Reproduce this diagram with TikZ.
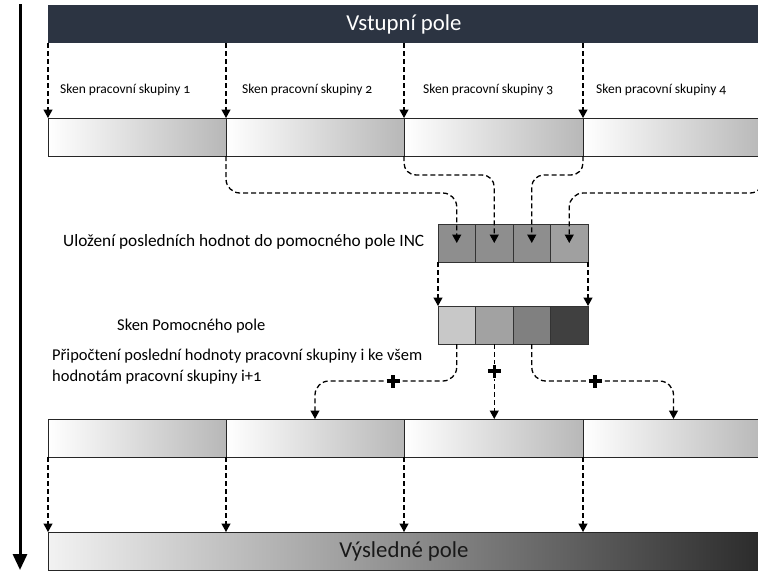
\documentclass[tikz,border=0pt]{standalone}
\usepackage{fontspec}
\setmainfont{Carlito}[Numbers=OldStyle]
\usetikzlibrary{arrows.meta}

\definecolor{barnavy}{HTML}{2C3442}
\definecolor{incgray}{HTML}{8E8E8E}
\definecolor{inclast}{HTML}{A0A0A0}
\definecolor{pomA}{HTML}{C8C8C8}
\definecolor{pomB}{HTML}{A2A2A2}
\definecolor{pomC}{HTML}{808080}
\definecolor{pomD}{HTML}{404040}

\tikzset{
  seg/.style={draw=black!85, line width=0.7pt, left color=white, right color=black!28,
    minimum height=38pt, inner sep=0pt, outer sep=0pt, anchor=north west},
  cellbox/.style={draw=black!80, line width=0.7pt, minimum width=37.5pt,
    minimum height=38pt, inner sep=0pt, outer sep=0pt, anchor=north west},
  flow/.style={dash pattern=on 5pt off 3pt, line width=1.3pt,
    -{Triangle[width=9pt,length=8.5pt]}},
  bigbar/.style={minimum height=38pt, inner sep=0pt, outer sep=0pt, anchor=north west,
    font=\fontsize{22.8}{24}\selectfont},
  smalllbl/.style={font=\fontsize{13.5}{15}\selectfont, anchor=west, inner sep=0pt},
  lbl/.style={font=\fontsize{16.5}{21}\selectfont, anchor=west, inner sep=0pt},
  plussign/.style={fill=white, inner sep=0pt, minimum size=15pt,
    path picture={
      \draw[line width=3.4pt] ([xshift=-6.5pt]path picture bounding box.center)
        -- ([xshift=6.5pt]path picture bounding box.center);
      \draw[line width=3.4pt] ([yshift=-6.5pt]path picture bounding box.center)
        -- ([yshift=6.5pt]path picture bounding box.center);}},
}

\begin{document}
\begin{tikzpicture}[x=1pt, y=-1pt]
\useasboundingbox (0,0) rectangle (758,571);

% time axis
\coordinate (t0) at (20,4);
\coordinate (t1) at (20,570);
\draw[line width=3pt, -{Triangle[width=14pt,length=16pt]}] (t0) -- (t1);

% input array
\node[bigbar, fill=barnavy, text=white, minimum width=712pt] (in) at (48,5) {Vstupní pole};

% work-group scan row
\node[seg, minimum width=178pt] (r1a) at (48,118) {};
\node[seg, minimum width=178pt] (r1b) at (226,118) {};
\node[seg, minimum width=179pt] (r1c) at (404,118) {};
\node[seg, minimum width=181pt] (r1d) at (583,118) {};

\node[smalllbl] (s1) at (60,90) {Sken pracovní skupiny 1};
\node[smalllbl] (s2) at (242,90) {Sken pracovní skupiny 2};
\node[smalllbl] (s3) at (423,90) {Sken pracovní skupiny 3};
\node[smalllbl] (s4) at (596,90) {Sken pracovní skupiny 4};

\foreach \r in {r1a,r1b,r1c,r1d}
  \draw[flow] (in.south -| \r.north west) -- (\r.north west);

% INC array
\node[cellbox, fill=incgray] (c1) at (438,224) {};
\node[cellbox, fill=incgray] (c2) at (475.5,224) {};
\node[cellbox, fill=incgray] (c3) at (513,224) {};
\node[cellbox, fill=inclast] (c4) at (550.5,224) {};

\node[lbl, font=\fontsize{17.3}{21}\selectfont] (incl) at (63,242)
  {Uložení posledních hodnot do pomocného pole INC};

\draw[flow, rounded corners=14pt] (r1a.south east) -- ++(0,37) -| (c1.center);
\draw[flow, rounded corners=12pt] (r1b.south east) -- ++(0,19) -| (c2.center);
\draw[flow, rounded corners=12pt] (r1c.south east) -- ++(0,19) -| (c3.center);
\draw[flow, rounded corners=14pt] (r1d.south east) -- ++(0,37) -| (c4.center);

% scanned auxiliary array
\node[cellbox, fill=pomA] (p1) at (438,306) {};
\node[cellbox, fill=pomB] (p2) at (475.5,306) {};
\node[cellbox, fill=pomC] (p3) at (513,306) {};
\node[cellbox, fill=pomD] (p4) at (550.5,306) {};

\node[lbl] (poml) at (117,326) {Sken Pomocného pole};

\draw[flow] (c1.south west) -- (p1.north west);
\draw[flow] (c4.south east) -- (p4.north east);

% second row after the addition
\node[seg, minimum width=178pt] (r2a) at (48,419) {};
\node[seg, minimum width=178pt] (r2b) at (226,419) {};
\node[seg, minimum width=179pt] (r2c) at (404,419) {};
\node[seg, minimum width=181pt] (r2d) at (583,419) {};

\node[lbl, anchor=north west, align=left] (addl) at (52,349)
  {Připočtení poslední hodnoty pracovní skupiny i ke všem\\hodnotám pracovní skupiny i+1};

\draw[flow, rounded corners=14pt] (p1.south) -- ++(0,37) -| (r2b.north);
\draw[flow] (p2.south) -- (p2.south |- r2c.north);
\draw[flow, rounded corners=14pt] (p3.south) -- ++(0,37) -| (r2d.north);

\node[plussign] (pl1) at (393,381) {};
\node[plussign] (pl2) at (494.3,371) {};
\node[plussign] (pl3) at (595,381) {};

% result array
\node[bigbar, draw=black!85, line width=0.7pt, left color=black!5, right color=black!83,
  text=black!90, minimum width=712pt] (fin) at (48,532) {Výsledné pole};

\foreach \r in {r2a,r2b,r2c,r2d}
  \draw[flow] (\r.south west) -- (\r.south west |- fin.north);

\end{tikzpicture}
\end{document}
